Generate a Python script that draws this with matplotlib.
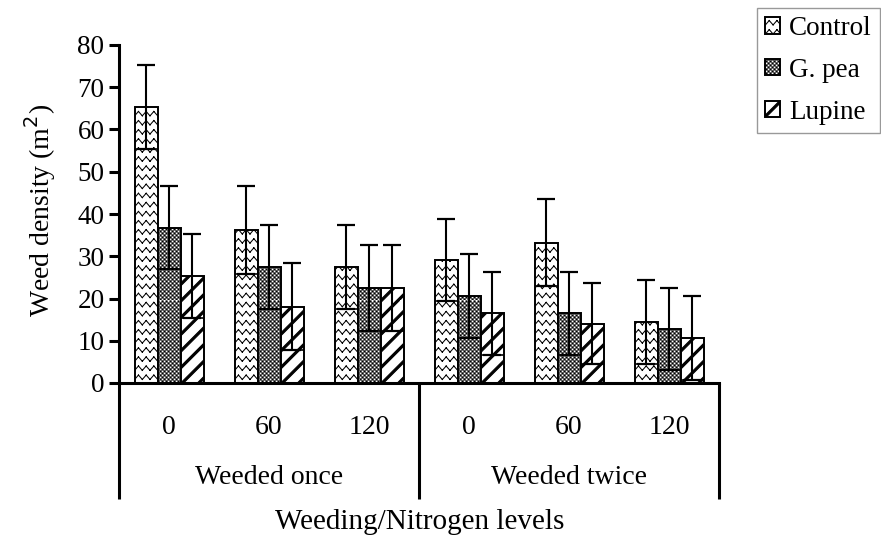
import warnings
import numpy as np
import matplotlib
matplotlib.use("Agg")
import matplotlib.pyplot as plt
from matplotlib import hatch as mhatch
from matplotlib.path import Path
from matplotlib.patches import Patch
from matplotlib.transforms import blended_transform_factory

warnings.filterwarnings("ignore", message=".*hatch must consist.*")

# data
levels = ["0", "60", "120", "0", "60", "120"]
groups = ["Weeded once", "Weeded twice"]
series = ["Control", "G. pea", "Lupine"]
control = [65.3, 36.2, 27.4, 29.0, 33.2, 14.4]
gpea = [36.8, 27.4, 22.5, 20.6, 16.5, 12.8]
lupine = [25.3, 18.1, 22.5, 16.5, 14.0, 10.7]
control_err = [10.0, 10.4, 10.0, 9.7, 10.3, 9.9]
gpea_err = [9.8, 10.0, 10.2, 9.9, 9.8, 9.8]
lupine_err = [10.0, 10.4, 10.2, 9.8, 9.6, 9.9]


# --- custom hatch patterns (Excel-like fills) ---
class ZigZagHatch(mhatch.HatchPatternBase):
    rows, teeth, amp = 11, 13, 0.022

    def __init__(self, hatch, density):
        self.on = hatch.count("z") > 0
        self.num_vertices = self.rows * self.teeth * 2 * 2 if self.on else 0

    def set_vertices_and_codes(self, vertices, codes):
        k = 0
        n_half = self.teeth * 2
        for i in range(self.rows):
            y0 = (i + 0.5) / self.rows
            for j in range(n_half):
                s = 1 if j % 2 == 0 else -1
                vertices[k] = (j / n_half, y0 + s * self.amp)
                vertices[k + 1] = ((j + 1) / n_half, y0 - s * self.amp)
                codes[k] = Path.MOVETO
                codes[k + 1] = Path.LINETO
                k += 2


class CheckerHatch(mhatch.HatchPatternBase):
    cells, side = 50, 0.011

    def __init__(self, hatch, density):
        self.on = hatch.count("q") > 0
        n = self.cells * self.cells // 2
        self.num_vertices = n * 5 if self.on else 0

    def set_vertices_and_codes(self, vertices, codes):
        k = 0
        p = 1.0 / self.cells
        for i in range(self.cells):
            for j in range(self.cells):
                if (i + j) % 2:
                    continue
                x, y = i * p, j * p
                s = self.side
                vertices[k:k + 5] = [(x, y), (x + s, y), (x + s, y + s), (x, y + s), (x, y)]
                codes[k:k + 5] = [Path.MOVETO, Path.LINETO, Path.LINETO, Path.LINETO, Path.CLOSEPOLY]
                k += 5


class ThickDiagHatch(mhatch.HatchPatternBase):
    n, t = 6, 0.03

    def __init__(self, hatch, density):
        self.on = hatch.count("d") > 0
        self.num_vertices = 2 * self.n * 5 if self.on else 0

    def set_vertices_and_codes(self, vertices, codes):
        k = 0
        for m in range(-self.n, self.n):
            c = m / self.n
            t = self.t
            vertices[k:k + 5] = [(0, c), (1, 1 + c), (1, 1 + c + t), (0, c + t), (0, c)]
            codes[k:k + 5] = [Path.MOVETO, Path.LINETO, Path.LINETO, Path.LINETO, Path.CLOSEPOLY]
            k += 5


mhatch._hatch_types.extend([ZigZagHatch, CheckerHatch, ThickDiagHatch])

plt.rcParams.update({
    "font.family": "Liberation Serif",
    "hatch.linewidth": 0.75,
    "hatch.color": "black",
})

values = [control, gpea, lupine]
errors = [control_err, gpea_err, lupine_err]
hatches = ["z", "q", "d"]

fig = plt.figure(figsize=(8.81, 5.45), dpi=100)
ax = fig.add_axes([119 / 881, 1 - 383 / 545, 600 / 881, 338 / 545])

x = np.arange(len(levels))
width = 0.23
for i, (vals, errs, h) in enumerate(zip(values, errors, hatches)):
    pos = x + (i - 1) * width
    ax.bar(pos, vals, width, facecolor="white", edgecolor="black",
           linewidth=1.4, hatch=h, zorder=2)
    ax.errorbar(pos, vals, yerr=errs, fmt="none", ecolor="black",
                elinewidth=1.5, capsize=6.5, capthick=1.6, zorder=3)
    low = np.array(vals) - np.array(errs)
    ax.hlines(low, pos - width / 2, pos + width / 2, color="black",
              linewidth=1.2, zorder=3)

ax.set_xlim(-0.5, len(levels) - 0.5)
ax.set_ylim(0, 80)
ax.set_yticks(np.arange(0, 81, 10))
ax.tick_params(axis="y", direction="out", length=7.5, width=2.2,
               labelsize=19.5, pad=3)
ax.set_xticks([])
for side in ["top", "right"]:
    ax.spines[side].set_visible(False)
ax.spines["left"].set_linewidth(2.2)
ax.spines["bottom"].set_linewidth(2.2)

# multi-level category axis
trans = blended_transform_factory(ax.transData, ax.transAxes)
for xi, lab in zip(x, levels):
    ax.text(xi, -0.133, lab, transform=trans, ha="center", va="center",
            fontsize=20)
n_per = len(levels) // len(groups)
bounds = [-0.5] + [n_per * (g + 1) - 0.5 for g in range(len(groups))]
for b in bounds:
    ax.plot([b, b], [0, -0.343], transform=trans, color="black",
            linewidth=2.2, clip_on=False, solid_capstyle="butt")
for g, name in enumerate(groups):
    ax.text(np.mean(x[g * n_per:(g + 1) * n_per]), -0.281, name,
            transform=trans, ha="center", va="center", fontsize=20)

fig.text(420 / 881, 1 - 522 / 545, "Weeding/Nitrogen levels",
         ha="center", va="center", fontsize=21)
fig.text(40 / 881, 1 - 210 / 545, "Weed density (m$^{2}$)", rotation=90,
         ha="center", va="center", fontsize=20)

handles = [Patch(facecolor="white", edgecolor="black", linewidth=1.4, hatch=h)
           for h in hatches]
leg = fig.legend(handles, series, loc="upper right",
                 bbox_to_anchor=(880 / 881, 1 - 8 / 545), fontsize=19.5,
                 frameon=True, fancybox=False, edgecolor="#808080",
                 handlelength=0.55, handleheight=0.55, handletextpad=0.35,
                 labelspacing=0.62, borderpad=0.3, borderaxespad=0)
leg.get_frame().set_linewidth(1.0)

fig.savefig("out.png", dpi=100)
